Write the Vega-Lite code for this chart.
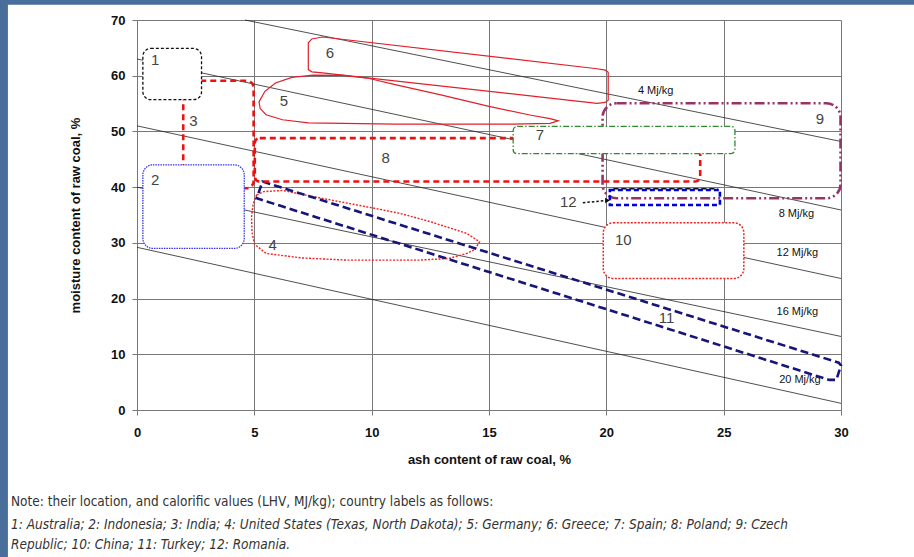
{
  "$schema": "https://vega.github.io/schema/vega-lite/v6.json",
  "width": 704,
  "height": 390,
  "autosize": {"type": "none"},
  "padding": {"left": 137, "top": 20, "right": 73, "bottom": 147},
  "background": "white",
  "config": {"view": {"stroke": null}, "font": "Liberation Sans"},
  "title": {
    "text": "Note: their location, and calorific values (LHV, MJ/kg); country labels as follows:",
    "subtitle": ["1: Australia; 2: Indonesia; 3: India; 4: United States (Texas, North Dakota); 5: Germany; 6: Greece; 7: Spain; 8: Poland; 9: Czech", "Republic; 10: China; 11: Turkey; 12: Romania."],
    "orient": "bottom",
    "anchor": "start",
    "frame": "group",
    "dx": -126,
    "offset": -63,
    "font": "Liberation Sans Narrow, DejaVu Sans Condensed, sans-serif",
    "fontSize": 13.5,
    "fontWeight": "normal",
    "color": "#333333",
    "subtitleFont": "Liberation Sans Narrow, DejaVu Sans Condensed, sans-serif",
    "subtitleFontStyle": "italic",
    "subtitleFontSize": 13.5,
    "subtitleColor": "#333333",
    "subtitleLineHeight": 20,
    "subtitlePadding": 10
  },
  "datasets": {
    "iso": [
      {"lhv": 4, "x": 4.6, "y": 70},
      {"lhv": 4, "x": 30, "y": 48.2},
      {"lhv": 8, "x": 0, "y": 63.0},
      {"lhv": 8, "x": 30, "y": 35.9},
      {"lhv": 12, "x": 0, "y": 51.0},
      {"lhv": 12, "x": 30, "y": 23.6},
      {"lhv": 16, "x": 0, "y": 40.0},
      {"lhv": 16, "x": 30, "y": 13.2},
      {"lhv": 20, "x": 0, "y": 29.2},
      {"lhv": 20, "x": 30, "y": 1.2}
    ],
    "isolab": [
      {"t": "4 Mj/kg", "x": 22.1, "y": 57.2},
      {"t": "8 Mj/kg", "x": 28.1, "y": 35.2},
      {"t": "12 Mj/kg", "x": 28.14, "y": 28.2},
      {"t": "16 Mj/kg", "x": 28.14, "y": 17.65},
      {"t": "20 Mj/kg", "x": 28.25, "y": 5.4}
    ],
    "boxes": [
      {"id": "3", "x": 1.97, "x2": 4.97, "y": 39.8, "y2": 59.1},
      {"id": "8", "x": 5.02, "x2": 24.0, "y": 41.0, "y2": 48.8},
      {"id": "9", "x": 19.84, "x2": 29.98, "y": 38.0, "y2": 55.05},
      {"id": "12", "x": 20.15, "x2": 24.84, "y": 36.8, "y2": 39.5},
      {"id": "1", "x": 0.25, "x2": 2.75, "y": 55.7, "y2": 64.9},
      {"id": "2", "x": 0.25, "x2": 4.57, "y": 29.0, "y2": 44.0},
      {"id": "7", "x": 16.03, "x2": 25.48, "y": 46.0, "y2": 50.9},
      {"id": "10", "x": 19.87, "x2": 25.86, "y": 23.6, "y2": 33.6}
    ],
    "shapes": [
      {"s": "6", "i": 0, "x": 7.3, "y": 61.1},
      {"s": "6", "i": 1, "x": 7.3, "y": 65.9},
      {"s": "6", "i": 2, "x": 7.45, "y": 66.6},
      {"s": "6", "i": 3, "x": 7.9, "y": 66.95},
      {"s": "6", "i": 4, "x": 19.6, "y": 61.25},
      {"s": "6", "i": 5, "x": 19.95, "y": 61.0},
      {"s": "6", "i": 6, "x": 20.08, "y": 60.6},
      {"s": "6", "i": 7, "x": 20.08, "y": 55.6},
      {"s": "6", "i": 8, "x": 19.95, "y": 55.2},
      {"s": "6", "i": 9, "x": 19.6, "y": 55.05},
      {"s": "6", "i": 10, "x": 7.9, "y": 60.5},
      {"s": "6", "i": 11, "x": 7.45, "y": 60.7},
      {"s": "5", "i": 0, "x": 5.2, "y": 55.3},
      {"s": "5", "i": 1, "x": 5.45, "y": 57.2},
      {"s": "5", "i": 2, "x": 5.9, "y": 58.7},
      {"s": "5", "i": 3, "x": 6.6, "y": 59.7},
      {"s": "5", "i": 4, "x": 7.5, "y": 60.1},
      {"s": "5", "i": 5, "x": 8.8, "y": 60.05},
      {"s": "5", "i": 6, "x": 9.9, "y": 59.5},
      {"s": "5", "i": 7, "x": 11.0, "y": 58.4},
      {"s": "5", "i": 8, "x": 12.9, "y": 56.6},
      {"s": "5", "i": 9, "x": 15.0, "y": 54.5},
      {"s": "5", "i": 10, "x": 16.8, "y": 52.9},
      {"s": "5", "i": 11, "x": 17.6, "y": 52.3},
      {"s": "5", "i": 12, "x": 17.95, "y": 51.9},
      {"s": "5", "i": 13, "x": 17.6, "y": 51.45},
      {"s": "5", "i": 14, "x": 16.0, "y": 51.3},
      {"s": "5", "i": 15, "x": 11.0, "y": 51.3},
      {"s": "5", "i": 16, "x": 7.3, "y": 51.55},
      {"s": "5", "i": 17, "x": 6.2, "y": 52.1},
      {"s": "5", "i": 18, "x": 5.5, "y": 53.0},
      {"s": "5", "i": 19, "x": 5.25, "y": 54.1},
      {"s": "4", "i": 0, "x": 5.1, "y": 38.6},
      {"s": "4", "i": 1, "x": 5.4, "y": 39.2},
      {"s": "4", "i": 2, "x": 6.2, "y": 39.4},
      {"s": "4", "i": 3, "x": 8.0, "y": 37.9},
      {"s": "4", "i": 4, "x": 10.0, "y": 36.3},
      {"s": "4", "i": 5, "x": 11.2, "y": 35.3},
      {"s": "4", "i": 6, "x": 12.5, "y": 33.8},
      {"s": "4", "i": 7, "x": 14.05, "y": 31.7},
      {"s": "4", "i": 8, "x": 14.6, "y": 30.2},
      {"s": "4", "i": 9, "x": 14.4, "y": 28.8},
      {"s": "4", "i": 10, "x": 14.05, "y": 28.1},
      {"s": "4", "i": 11, "x": 13.3, "y": 27.2},
      {"s": "4", "i": 12, "x": 12.0, "y": 26.9},
      {"s": "4", "i": 13, "x": 9.0, "y": 26.9},
      {"s": "4", "i": 14, "x": 7.0, "y": 27.3},
      {"s": "4", "i": 15, "x": 5.5, "y": 28.1},
      {"s": "4", "i": 16, "x": 5.0, "y": 29.8},
      {"s": "4", "i": 17, "x": 4.9, "y": 32.0},
      {"s": "4", "i": 18, "x": 4.88, "y": 34.7},
      {"s": "4", "i": 19, "x": 4.95, "y": 37.0},
      {"s": "11", "i": 0, "x": 5.35, "y": 41.0},
      {"s": "11", "i": 1, "x": 29.9, "y": 8.5},
      {"s": "11", "i": 2, "x": 30.0, "y": 8.0},
      {"s": "11", "i": 3, "x": 29.8, "y": 5.4},
      {"s": "11", "i": 4, "x": 29.5, "y": 5.4},
      {"s": "11", "i": 5, "x": 5.1, "y": 38.0}
    ],
    "romtop": [
      {"x": 20.3, "x2": 24.75, "y": 39.7}
    ],
    "arrow": [
      {"x": 19.0, "y": 37.2},
      {"x": 20.0, "y": 37.6}
    ],
    "arrowhead": [
      {"x": 20.05, "y": 37.62}
    ],
    "labels": [
      {"t": "1", "x": 0.77, "y": 62.8},
      {"t": "2", "x": 0.77, "y": 41.3},
      {"t": "3", "x": 2.4, "y": 51.8},
      {"t": "4", "x": 5.78, "y": 29.6},
      {"t": "5", "x": 6.26, "y": 55.4},
      {"t": "6", "x": 8.22, "y": 64.0},
      {"t": "7", "x": 17.17, "y": 49.4},
      {"t": "8", "x": 10.6, "y": 45.2},
      {"t": "9", "x": 29.1, "y": 52.2},
      {"t": "10", "x": 20.72, "y": 30.5},
      {"t": "11", "x": 22.57, "y": 16.5},
      {"t": "12", "x": 18.38, "y": 37.4}
    ],
    "slide": [
      {"part": "top", "x": -10, "x2": 40, "y": 72.75, "y2": 80},
      {"part": "left", "x": -10, "x2": -5.5, "y": -26.5, "y2": 80}
    ]
  },
  "encoding": {
    "x": {
      "field": "x", "type": "quantitative",
      "scale": {"domain": [0, 30], "nice": false, "zero": false, "clamp": false},
      "axis": {
        "title": "ash content of raw coal, %",
        "values": [0, 5, 10, 15, 20, 25, 30],
        "grid": true, "gridColor": "#777777", "gridWidth": 1,
        "domainColor": "#777777", "tickColor": "#777777", "tickSize": 5,
        "labelFont": "Liberation Sans", "labelFontWeight": "bold", "labelFontSize": 13, "labelColor": "#111111",
        "labelPadding": 11, "labelFlush": false,
        "titleFont": "Liberation Sans", "titleFontWeight": "bold", "titleFontSize": 13, "titleColor": "#111111",
        "titlePadding": 14
      }
    },
    "y": {
      "field": "y", "type": "quantitative",
      "scale": {"domain": [0, 70], "nice": false, "zero": false, "clamp": false},
      "axis": {
        "title": "moisture content of raw coal, %",
        "values": [0, 10, 20, 30, 40, 50, 60, 70],
        "grid": true, "gridColor": "#777777", "gridWidth": 1,
        "domainColor": "#777777", "tickColor": "#777777", "tickSize": 5,
        "labelFont": "Liberation Sans", "labelFontWeight": "bold", "labelFontSize": 13, "labelColor": "#111111",
        "labelPadding": 7, "labelFlush": false,
        "titleFont": "Liberation Sans", "titleFontWeight": "bold", "titleFontSize": 13, "titleColor": "#111111",
        "titlePadding": 28
      }
    }
  },
  "layer": [
    {
      "data": {"name": "iso"},
      "mark": {"type": "line", "color": "#222222", "strokeWidth": 0.8},
      "encoding": {"detail": {"field": "lhv"}}
    },
    {
      "data": {"name": "isolab"},
      "mark": {"type": "text", "fontSize": 11, "color": "#111111", "font": "Liberation Sans"},
      "encoding": {"text": {"field": "t"}}
    },
    {
      "data": {"name": "shapes"},
      "transform": [{"filter": "datum.s === '6'"}],
      "mark": {"type": "line", "interpolate": "linear-closed", "color": "#e0202a", "strokeWidth": 1.2},
      "encoding": {"order": {"field": "i"}}
    },
    {
      "data": {"name": "shapes"},
      "transform": [{"filter": "datum.s === '5'"}],
      "mark": {"type": "line", "interpolate": "linear-closed", "color": "#e0202a", "strokeWidth": 1.2},
      "encoding": {"order": {"field": "i"}}
    },
    {
      "data": {"name": "shapes"},
      "transform": [{"filter": "datum.s === '4'"}],
      "mark": {"type": "line", "interpolate": "linear-closed", "color": "#ee2222", "strokeWidth": 1.4, "strokeDash": [2, 1.5]},
      "encoding": {"order": {"field": "i"}}
    },
    {
      "data": {"name": "shapes"},
      "transform": [{"filter": "datum.s === '11'"}],
      "mark": {"type": "line", "interpolate": "linear-closed", "color": "#15157a", "strokeWidth": 2.6, "strokeDash": [8, 4]},
      "encoding": {"order": {"field": "i"}}
    },
    {
      "data": {"name": "boxes"},
      "transform": [{"filter": "datum.id === '3'"}],
      "mark": {"type": "rect", "fill": "transparent", "stroke": "#ee1111", "strokeWidth": 2.6, "strokeDash": [6, 4], "cornerRadius": 7},
      "encoding": {"x2": {"field": "x2"}, "y2": {"field": "y2"}}
    },
    {
      "data": {"name": "boxes"},
      "transform": [{"filter": "datum.id === '8'"}],
      "mark": {"type": "rect", "fill": "transparent", "stroke": "#ee1111", "strokeWidth": 2.6, "strokeDash": [6, 4], "cornerRadius": 5},
      "encoding": {"x2": {"field": "x2"}, "y2": {"field": "y2"}}
    },
    {
      "data": {"name": "boxes"},
      "transform": [{"filter": "datum.id === '9'"}],
      "mark": {"type": "rect", "fill": "transparent", "stroke": "#993366", "strokeWidth": 2.6, "strokeDash": [10, 3, 2, 3, 2, 3], "cornerRadius": 14},
      "encoding": {"x2": {"field": "x2"}, "y2": {"field": "y2"}}
    },
    {
      "data": {"name": "boxes"},
      "transform": [{"filter": "datum.id === '12'"}],
      "mark": {"type": "rect", "fill": "transparent", "stroke": "#0000dd", "strokeWidth": 2.6, "strokeDash": [5, 3]},
      "encoding": {"x2": {"field": "x2"}, "y2": {"field": "y2"}}
    },
    {
      "data": {"name": "romtop"},
      "mark": {"type": "rule", "color": "#111111", "strokeWidth": 1.5, "strokeDash": [5, 3]},
      "encoding": {"x2": {"field": "x2"}}
    },
    {
      "data": {"name": "arrow"},
      "mark": {"type": "line", "color": "#111111", "strokeWidth": 1.5, "strokeDash": [2.5, 2]},
      "encoding": {}
    },
    {
      "data": {"name": "arrowhead"},
      "mark": {"type": "point", "shape": "triangle-right", "filled": true, "color": "#111111", "size": 30, "opacity": 1},
      "encoding": {}
    },
    {
      "data": {"name": "boxes"},
      "transform": [{"filter": "datum.id === '1'"}],
      "mark": {"type": "rect", "fill": "white", "stroke": "#111111", "strokeWidth": 1.3, "strokeDash": [3, 2], "cornerRadius": 8},
      "encoding": {"x2": {"field": "x2"}, "y2": {"field": "y2"}}
    },
    {
      "data": {"name": "boxes"},
      "transform": [{"filter": "datum.id === '2'"}],
      "mark": {"type": "rect", "fill": "white", "stroke": "#3333ee", "strokeWidth": 1.3, "strokeDash": [1.5, 1], "cornerRadius": 10},
      "encoding": {"x2": {"field": "x2"}, "y2": {"field": "y2"}}
    },
    {
      "data": {"name": "boxes"},
      "transform": [{"filter": "datum.id === '7'"}],
      "mark": {"type": "rect", "fill": "white", "stroke": "#2e8b2e", "strokeWidth": 1.3, "strokeDash": [6, 2, 1.5, 2], "cornerRadius": 4},
      "encoding": {"x2": {"field": "x2"}, "y2": {"field": "y2"}}
    },
    {
      "data": {"name": "boxes"},
      "transform": [{"filter": "datum.id === '10'"}],
      "mark": {"type": "rect", "fill": "white", "stroke": "#ee2222", "strokeWidth": 1.5, "strokeDash": [2, 1.5], "cornerRadius": 10},
      "encoding": {"x2": {"field": "x2"}, "y2": {"field": "y2"}}
    },
    {
      "data": {"name": "labels"},
      "mark": {"type": "text", "fontSize": 15, "color": "#444444", "font": "Liberation Sans"},
      "encoding": {"text": {"field": "t"}}
    },
    {
      "data": {"name": "slide"},
      "mark": {"type": "rect", "clip": false, "color": "#4a6e9c", "opacity": 1},
      "encoding": {"x2": {"field": "x2"}, "y2": {"field": "y2"}}
    }
  ]
}
